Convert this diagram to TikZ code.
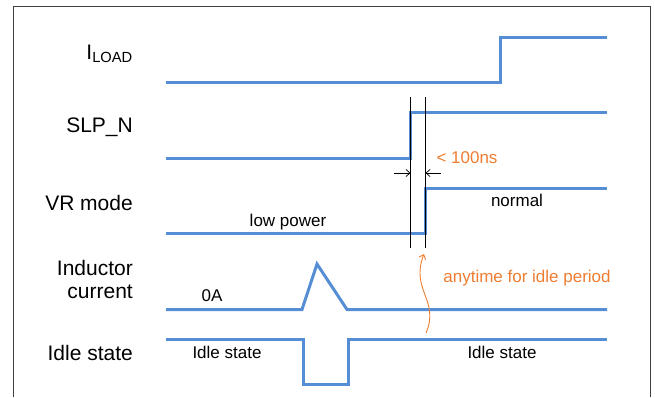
\documentclass[tikz,border=0pt]{standalone}
\usepackage{fontspec}
\setmainfont{Liberation Sans}
\usetikzlibrary{arrows.meta}

\definecolor{wave}{RGB}{85,142,213}
\definecolor{note}{RGB}{237,125,49}

\begin{document}
\begin{tikzpicture}[
        x=1pt, y=-1pt,
        Signal/.style={draw=wave, line width=3pt, line join=miter},
        SigName/.style={anchor=east, font=\fontsize{21}{23}\selectfont, inner sep=0pt},
        StateText/.style={font=\fontsize{17}{19}\selectfont, inner sep=0pt},
        NoteText/.style={StateText, text=note},
        Marker/.style={draw=black, line width=0.9pt},
        ]
    \useasboundingbox (0,0) rectangle (655,397);
    \draw [draw=black!75, line width=1.3pt] (13.7,397) -- (13.7,6.5) -- (650.7,6.5) -- (650.7,397);

    \node [SigName] (iload) at (133,54) {I\textsubscript{LOAD}};
    \node [SigName] (slpn) at (133,127) {SLP\_N};
    \node [SigName] (vrmode) at (133,203) {VR mode};
    \node [SigName, align=right] (ind) at (133,279) {Inductor\\current};
    \node [SigName] (idle) at (133,353) {Idle state};

    \draw [Signal] (166,82) -- (500,82) -- (500,37) -- (607,37);
    \draw [Signal] (166,158) -- (410,158) -- (410,112) -- (607,112);
    \draw [Signal] (166,233) -- (425,233) -- (425,188) -- (607,188);
    \draw [Signal] (166,309.5) -- (302,309.5) -- (317,264) -- (347,309.5) -- (607,309.5);
    \draw [Signal] (166,339.5) -- (303,339.5) -- (303,384.5) -- (348,384.5) -- (348,339.5) -- (607,339.5);

    \coordinate (t1top) at (410.5,97);
    \coordinate (t1bot) at (410.5,248);
    \coordinate (t2top) at (425.5,97);
    \coordinate (t2bot) at (425.5,248);
    \draw [Marker] (t1top) -- (t1bot);
    \draw [Marker] (t2top) -- (t2bot);

    \coordinate (a1) at (394,173);
    \coordinate (a1end) at (410.5,173);
    \coordinate (a2) at (441,173);
    \coordinate (a2end) at (425.5,173);
    \begin{scope}[line width=0.7pt, -{Straight Barb[length=4pt, width=7pt]}]
        \draw (a1) -- (a1end);
        \draw (a2) -- (a2end);
    \end{scope}
    \node [NoteText] (delay) at (467,158) {< 100ns};

    \node [StateText] (lowpw) at (288,222) {low power};
    \node [StateText] (norm) at (517,200) {normal};
    \node [StateText] (zeroa) at (212,296) {0A};
    \node [StateText] (idle1) at (227,352) {Idle state};
    \node [StateText] (idle2) at (502,352) {Idle state};
    \node [NoteText] (anytime) at (527,278) {anytime for idle period};

    \coordinate (wv) at (426,333);
    \coordinate (wvtip) at (424,254);
    \draw [draw=note, line width=0.9pt, -{Straight Barb[length=4pt, width=7pt]}]
        (wv) .. controls (440,300) and (410,290) .. (wvtip);
\end{tikzpicture}
\end{document}
